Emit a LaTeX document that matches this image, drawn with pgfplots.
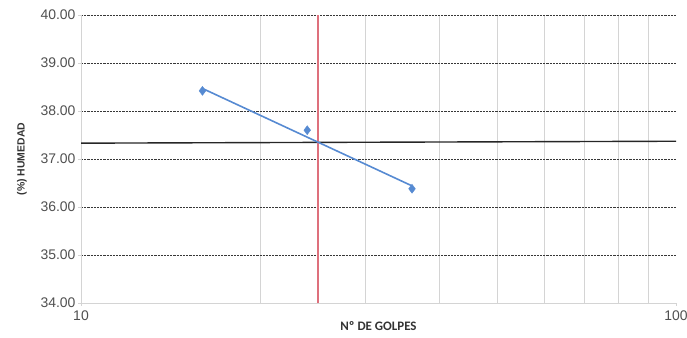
\documentclass[border=0pt]{standalone}
\usepackage{pgfplots}
\pgfplotsset{compat=1.18}
\usepackage{fontspec}
\setmainfont{Liberation Sans}
\newfontfamily\calibri{Carlito}
\definecolor{serieblue}{RGB}{86,138,210}
\definecolor{linered}{RGB}{222,112,124}
\definecolor{gridgray}{RGB}{55,55,55}
\definecolor{minorgray}{RGB}{212,212,212}
\definecolor{ticktext}{RGB}{80,80,80}

\begin{document}
\begin{tikzpicture}[x=1bp,y=1bp]
\useasboundingbox (-81,-34) rectangle (606,303);
\begin{axis}[
    at={(0,0)}, anchor=south west,
    scale only axis, width=595bp, height=288bp,
    xmode=log, xmin=10, xmax=100,
    ymin=34, ymax=40,
    xtick={10,100}, xticklabels={10,100},
    minor xtick={20,30,40,50,60,70,80,90},
    ytick={34,35,...,40},
    yticklabel={\pgfmathprintnumber[fixed,fixed zerofill,precision=2]{\tick}},
    /pgf/number format/assume math mode=true,
    axis x line*=bottom, axis y line*=left,
    axis line style={-, minorgray, line width=0.8pt},
    ymajorgrids, xminorgrids,
    major grid style={gridgray, line width=0.7pt, dash pattern=on 2.2pt off 1pt},
    minor grid style={minorgray, line width=0.6pt},
    tick style={minorgray},
    major tick length=3pt, minor tick length=0pt,
    tick align=outside,
    ticklabel style={font=\fontsize{14}{15}\selectfont, text=ticktext},
    yticklabel style={xshift=1pt},
    xticklabel style={yshift=-1pt},
    xlabel={\calibri\bfseries Nº DE GOLPES},
    ylabel={\bfseries (\%) HUMEDAD},
    xlabel style={font=\fontsize{13}{14}\selectfont, text=black!80, yshift=6pt},
    ylabel style={font=\fontsize{10.5}{12}\selectfont, text=black!80, yshift=7pt},
    clip=false,
]
\addplot[black!85, line width=1.4pt] coordinates {(10,37.33)(100,37.37)};
\addplot[linered, line width=1.6pt] coordinates {(25,34)(25,40)};
\addplot[serieblue, line width=1.6pt] coordinates {(16,38.47)(36,36.44)};
\addplot[only marks, mark=diamond*, mark size=4.5, color=serieblue] coordinates {
  (16,38.42)(24,37.60)(36,36.38)
};
\end{axis}
\end{tikzpicture}
\end{document}
